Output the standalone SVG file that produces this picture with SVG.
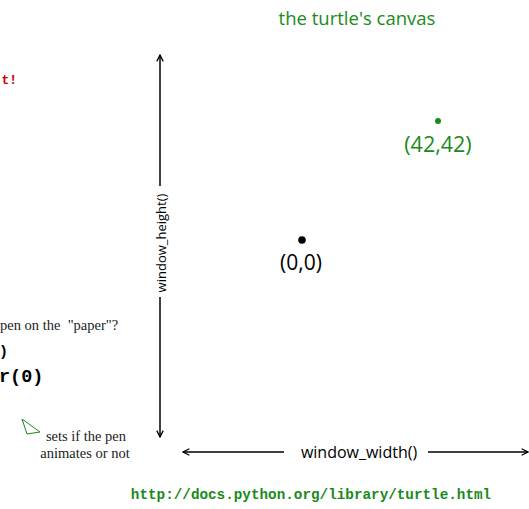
<svg xmlns="http://www.w3.org/2000/svg" width="529" height="509" viewBox="0 0 529 509">
<style>
.green{fill:#1a8a1a}
.sans{font-family:"Open Sans","Liberation Sans",sans-serif}
.serif{font-family:"Liberation Serif","DejaVu Serif",serif;font-size:14.5px;fill:#222;white-space:pre}
.mono{font-family:"Liberation Mono","DejaVu Sans Mono",monospace;font-weight:bold}
.axis{stroke:#000;stroke-width:1.5;fill:none}
</style>
<defs>
<marker id="arr" viewBox="0 0 10 10" refX="9" refY="5" markerWidth="8" markerHeight="8" markerUnits="userSpaceOnUse" orient="auto">
<path d="M1,1 L9,5 L1,9" fill="none" stroke="#000" stroke-width="1.6"/>
</marker>
</defs>
<rect width="529" height="509" fill="#fff"/>
<g id="title"><text class="sans green" x="357" y="25" font-size="18.5" text-anchor="middle">the turtle's canvas</text></g>
<g id="point42"><circle cx="438" cy="121" r="3" fill="#1a8a1a"/><text class="sans green" x="438" y="152" font-size="21.5" text-anchor="middle">(42,42)</text></g>
<g id="origin"><circle cx="302" cy="240" r="3.8" fill="#000"/><text class="sans" x="301" y="270" font-size="21" text-anchor="middle" fill="#000">(0,0)</text></g>
<g id="connectors">
<line class="axis" x1="160" y1="186" x2="160" y2="55" marker-end="url(#arr)"/>
<line class="axis" x1="160" y1="297" x2="160" y2="437" marker-end="url(#arr)"/>
<line class="axis" x1="284" y1="452" x2="183" y2="452" marker-end="url(#arr)"/>
<line class="axis" x1="428" y1="452" x2="528" y2="452" marker-end="url(#arr)"/>
</g>
<g id="height-label"><text class="sans" transform="translate(165.5,243) rotate(-90)" font-size="13" text-anchor="middle" fill="#000">window_height()</text></g>
<g id="width-label"><text class="sans" x="359" y="458" font-size="16" text-anchor="middle" fill="#000">window_width()</text></g>
<g id="left-notes">
<text class="mono" x="17" y="84" font-size="13" text-anchor="end" fill="#cc0000">t!</text>
<text class="serif" x="0" y="330">pen on the  "paper"?</text>
<text class="mono" x="-1" y="356" font-size="15" fill="#000">)</text>
<text class="mono" x="-1" y="382" font-size="18.5" fill="#000">r(0)</text>
<polygon points="22,419 40,432 27,434" fill="none" stroke="#1a8a1a" stroke-width="1"/>
<text class="serif" x="86" y="441" text-anchor="middle">sets if the pen</text>
<text class="serif" x="85" y="458" text-anchor="middle">animates or not</text>
</g>
<g id="url"><text class="mono green" x="311" y="499" font-size="14.3" text-anchor="middle">http://docs.python.org/library/turtle.html</text></g>
</svg>
